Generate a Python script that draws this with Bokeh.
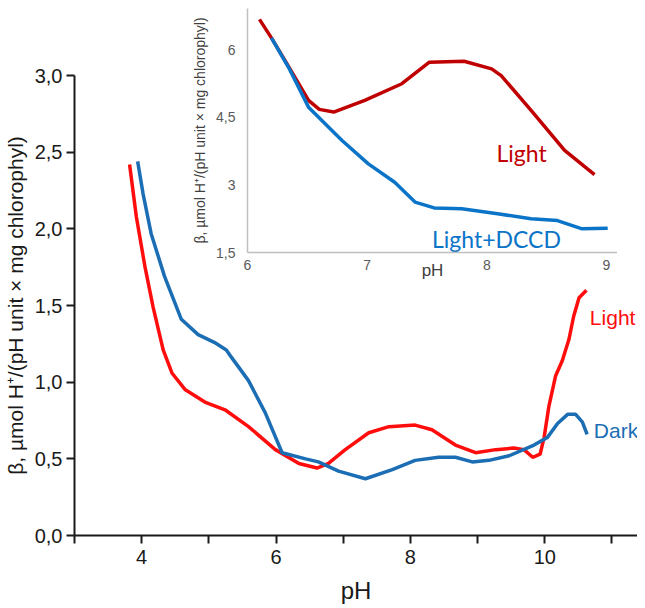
from bokeh.plotting import figure
from bokeh.layouts import column
from bokeh.models import FixedTicker, CustomJSTickFormatter, Range1d, Label
from bokeh.core.properties import value
from bokeh.embed import file_html
from bokeh.resources import INLINE

# ---------------- data (main chart) ----------------
light_ph = [3.82, 3.92, 4.05, 4.17, 4.32, 4.45, 4.65, 4.94, 5.24, 5.59, 5.99, 6.34,
            6.61, 6.78, 7.03, 7.38, 7.68, 8.07, 8.32, 8.67, 8.97, 9.27, 9.54, 9.69,
            9.82, 9.93, 9.99, 10.06, 10.16, 10.26, 10.36, 10.43, 10.51, 10.62]
light_beta = [2.42, 2.08, 1.75, 1.49, 1.21, 1.06, 0.95, 0.87, 0.82, 0.71, 0.56, 0.47,
              0.44, 0.47, 0.56, 0.67, 0.71, 0.72, 0.69, 0.59, 0.54, 0.56, 0.57, 0.56,
              0.51, 0.53, 0.64, 0.84, 1.04, 1.14, 1.28, 1.43, 1.55, 1.60]

dark_ph = [3.94, 4.02, 4.14, 4.34, 4.59, 4.84, 5.08, 5.26, 5.34, 5.59, 5.84, 6.09,
           6.44, 6.63, 6.93, 7.33, 7.73, 8.07, 8.42, 8.67, 8.92, 9.17, 9.47, 9.84,
           10.04, 10.19, 10.34, 10.46, 10.56, 10.63]
dark_beta = [2.44, 2.23, 1.97, 1.69, 1.41, 1.31, 1.26, 1.21, 1.16, 1.01, 0.80, 0.54,
             0.50, 0.48, 0.42, 0.37, 0.43, 0.49, 0.51, 0.51, 0.48, 0.49, 0.52, 0.59,
             0.64, 0.73, 0.79, 0.79, 0.74, 0.66]

main_x_ticks = [4, 6, 8, 10]
main_x_minor = [3, 5, 7, 9, 11]
main_y_ticks = [0.0, 0.5, 1.0, 1.5, 2.0, 2.5, 3.0]

# ---------------- data (inset) ----------------
inset_light_ph = [6.10, 6.20, 6.35, 6.51, 6.60, 6.72, 6.98, 7.29, 7.52, 7.81, 8.04,
                  8.12, 8.37, 8.65, 8.90]
inset_light_beta = [6.68, 6.27, 5.60, 4.88, 4.68, 4.62, 4.88, 5.25, 5.73, 5.75, 5.58,
                    5.43, 4.66, 3.77, 3.23]

inset_dccd_ph = [6.20, 6.35, 6.51, 6.79, 7.01, 7.23, 7.40, 7.56, 7.79, 8.09, 8.37,
                 8.59, 8.79, 9.01]
inset_dccd_beta = [6.27, 5.58, 4.73, 3.99, 3.47, 3.06, 2.62, 2.49, 2.47, 2.36, 2.25,
                   2.21, 2.03, 2.04]

inset_x_ticks = [6, 7, 8, 9]
inset_y_ticks = [1.5, 3, 4.5, 6]

y_title = "β, µmol H⁺/(pH unit × mg chlorophyl)"
x_title = "pH"

# label annotations (text, x, y)
main_labels = ["Light", "Dark"]
main_label_x = [11.01, 11.06]
main_label_y = [1.425, 0.688]
main_label_colors = ["#FF0D0D", "#1B6DB4"]
inset_labels = ["Light", "Light+DCCD"]
inset_label_x = [8.29, 8.08]
inset_label_y = [3.70, 1.81]

FONT = "Liberation Sans"
AX = "#1a1a1a"

# ---------------- main figure ----------------
p = figure(width=637, height=606, x_range=Range1d(3, 11.38), y_range=Range1d(0, 3.0),
           output_backend="svg", toolbar_location=None,
           min_border_left=73, min_border_right=0, min_border_top=75, min_border_bottom=71)
p.grid.visible = False
p.outline_line_color = None
p.background_fill_alpha = 0
p.border_fill_alpha = 0

p.line(light_ph, light_beta, line_color="#FF0D0D", line_width=3.5)
p.line(dark_ph, dark_beta, line_color="#1B6DB4", line_width=3.5)

for t, x, y, c in zip(main_labels, main_label_x, main_label_y, main_label_colors):
    p.add_layout(Label(x=x, y=y, text=t, text_color=c, text_font=FONT,
                       text_font_size="21px", text_align="center", text_baseline="middle"))

for ax in (p.xaxis[0], p.yaxis[0]):
    ax.axis_line_width = 2
    ax.axis_line_color = AX
    ax.major_tick_line_width = 2
    ax.major_tick_line_color = AX
    ax.major_tick_out = 8
    ax.major_tick_in = 0
    ax.minor_tick_line_width = 2
    ax.minor_tick_line_color = AX
    ax.minor_tick_out = 8
    ax.minor_tick_in = 0
    ax.major_label_text_font = FONT
    ax.major_label_text_font_size = "20px"
    ax.major_label_text_color = AX
    ax.axis_label_text_font = FONT
    ax.axis_label_text_font_style = "normal"
    ax.axis_label_text_color = AX

p.xaxis[0].ticker = FixedTicker(ticks=main_x_ticks, minor_ticks=main_x_minor)
p.xaxis[0].major_label_standoff = 6
p.xaxis[0].axis_label = x_title
p.xaxis[0].axis_label_text_font_size = "24px"
p.xaxis[0].axis_label_standoff = 10

p.yaxis[0].ticker = FixedTicker(ticks=main_y_ticks, minor_ticks=[])
p.yaxis[0].formatter = CustomJSTickFormatter(code="return tick.toFixed(1).replace('.', ',');")
p.yaxis[0].major_label_standoff = 4
p.yaxis[0].axis_label = y_title
p.yaxis[0].axis_label_text_font_size = "21px"
p.yaxis[0].axis_label_standoff = 5

# ---------------- inset figure ----------------
# (side borders equal to the main figure's, since a column aligns plot frames)
q = figure(width=444, height=284, x_range=Range1d(6, 9.092), y_range=Range1d(1.5, 6.922),
           output_backend="svg", toolbar_location=None,
           min_border_left=73, min_border_right=0, min_border_top=8, min_border_bottom=32)
q.grid.visible = False
q.outline_line_color = None
q.background_fill_alpha = 0
q.border_fill_alpha = 0

q.line(inset_light_ph, inset_light_beta, line_color="#C00000", line_width=3.5)
q.line(inset_dccd_ph, inset_dccd_beta, line_color="#0A74C8", line_width=3.5)

q.text(x=inset_label_x, y=inset_label_y, text=inset_labels,
       text_color=["#C00000", "#0A74C8"], text_font=value("Lato"), text_font_size="23px",
       text_align="center", text_baseline="middle")

for ax in (q.xaxis[0], q.yaxis[0]):
    ax.axis_line_width = 1.5
    ax.axis_line_color = "#BFBFBF"
    ax.major_tick_out = 0
    ax.major_tick_in = 0
    ax.minor_tick_out = 0
    ax.minor_tick_in = 0
    ax.major_label_text_font = FONT
    ax.major_label_text_font_size = "14px"
    ax.major_label_text_color = "#595959"
    ax.axis_label_text_font = FONT
    ax.axis_label_text_font_style = "normal"
    ax.axis_label_text_color = "#404040"

q.xaxis[0].ticker = FixedTicker(ticks=inset_x_ticks, minor_ticks=[])
q.xaxis[0].major_label_standoff = 7
q.xaxis[0].axis_label = x_title
q.xaxis[0].axis_label_text_font_size = "17px"
q.xaxis[0].axis_label_standoff = -12

q.yaxis[0].ticker = FixedTicker(ticks=inset_y_ticks, minor_ticks=[])
q.yaxis[0].formatter = CustomJSTickFormatter(
    code="return (Math.round(tick*10)/10).toString().replace('.', ',');")
q.yaxis[0].major_label_standoff = 12
q.yaxis[0].axis_label = y_title
q.yaxis[0].axis_label_text_font_size = "14px"
q.yaxis[0].axis_label_standoff = 5

# place the inset over the upper right part of the main plot
q.margin = (-606, 0, 0, 173)

layout = column(p, q, spacing=0)
open("out.html", "w").write(file_html(layout, INLINE))
